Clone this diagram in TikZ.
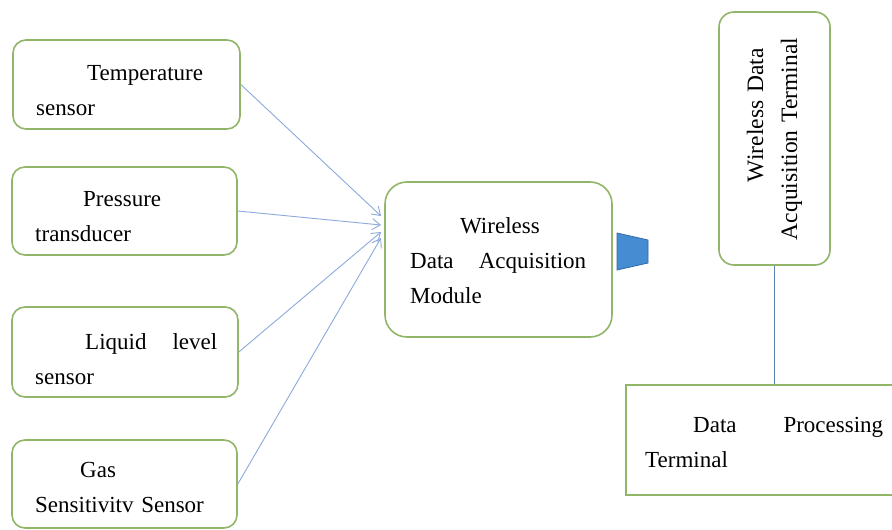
\documentclass[tikz,border=0pt]{standalone}
\usepackage{fontspec}
\setmainfont{Liberation Serif}
\usetikzlibrary{arrows.meta}
\definecolor{boxgreen}{RGB}{145,182,105}
\definecolor{arrowblue}{RGB}{140,170,220}
\definecolor{linkblue}{RGB}{90,130,180}
\definecolor{trapfill}{RGB}{70,140,210}
\definecolor{trapedge}{RGB}{50,105,170}
\begin{document}
\begin{tikzpicture}[x=1pt,y=-1pt,
  box/.style={draw=boxgreen, line width=1.6pt, rounded corners=13pt, inner sep=0pt, fill=white},
  txt/.style={inner sep=0pt, anchor=north west, align=left, font=\fontsize{23}{35}\selectfont},
  feed/.style={draw=arrowblue, line width=0.9pt, -{Straight Barb[length=8pt,width=11pt]}},
  link/.style={draw=linkblue, line width=0.9pt}]
\clip (0,0) rectangle (892,530);
\fill[white] (0,0) rectangle (892,530);

% boxes
\node[box, minimum width=227pt, minimum height=89pt] (temp) at (126.5,84.5) {};
\node[box, minimum width=225pt, minimum height=88pt] (pres) at (124.5,211) {};
\node[box, minimum width=226pt, minimum height=90pt] (liq) at (125,352) {};
\node[box, minimum width=225pt, minimum height=88pt] (gas) at (124.5,484) {};
\node[box, rounded corners=22pt, minimum width=227pt, minimum height=155pt] (mod) at (498.5,259.5) {};
\node[box, rounded corners=15pt, minimum width=111pt, minimum height=253pt] (term) at (774.5,138.5) {};
\node[box, rounded corners=0pt, minimum width=279pt, minimum height=110pt] (dp) at (765.5,440) {};

% texts
\node[txt, text width=182pt] (temp-t) at (36,55.5) {\strut\hspace*{51pt}Temperature\\sensor};
\node[txt, text width=182pt] (pres-t) at (35,181.5) {\strut\hspace*{48pt}Pressure\\transducer};
\node[txt, text width=182pt] (liq-t) at (35,325) {\strut\hspace*{50pt}Liquid\hfill level\\sensor};
\node[txt, text width=182pt] (gas-t) at (35,452.5) {\strut\hspace*{45pt}Gas\\Sensitivitv Sensor};
\node[txt, text width=176pt] (mod-t) at (410,208.5) {\strut\hspace*{50pt}Wireless\\Data\hfill Acquisition\\Module};
\node[txt, text width=238pt] (dp-t) at (645,407.5) {\strut\hspace*{48pt}Data\hfill Processing\\Terminal};
\node[inner sep=0pt, rotate=90, text width=203pt, align=left, font=\fontsize{23.5}{34}\selectfont] (term-t) at (term.center) {\hspace*{58pt}Wireless Data\\Acquisition Terminal};

% arrow ends
\coordinate (in1) at (381,216);
\coordinate (in2) at (381,225);
\coordinate (in3) at (381,232);
\coordinate (in4) at (381,238);

\draw[feed] (temp.east) -- (in1);
\draw[feed] (pres.east) -- (in2);
\draw[feed] (liq.east) -- (in3);
\draw[feed] (gas.east) -- (in4);

% antenna symbol
\filldraw[fill=trapfill, draw=trapedge, line width=0.8pt] (617,233) -- (648,240) -- (648,263) -- (617,270) -- cycle;

\draw[link] (term.south) -- (term.south |- dp.north);
\end{tikzpicture}
\end{document}
